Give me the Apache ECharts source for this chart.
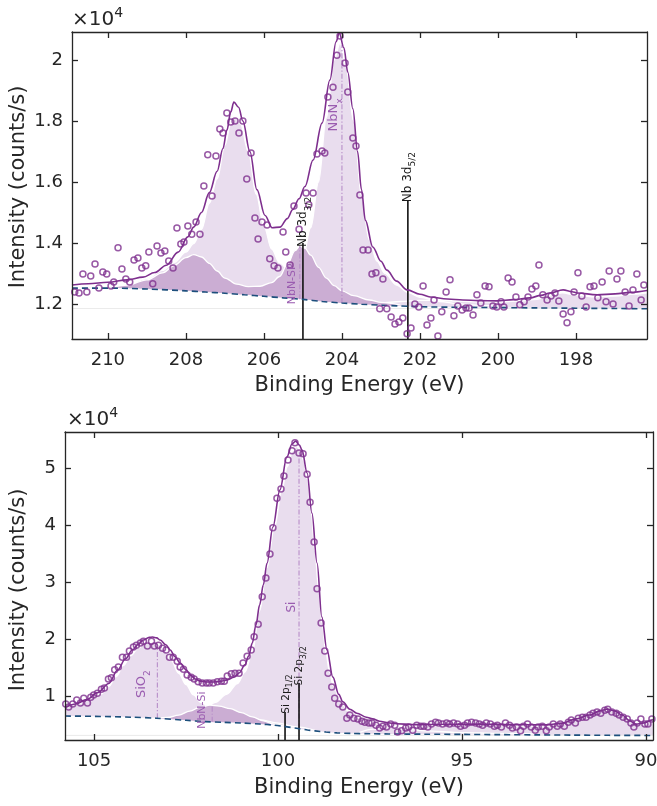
<!DOCTYPE html>
<html><head><meta charset="utf-8">
<script src="https://cdn.jsdelivr.net/npm/echarts@6/dist/echarts.min.js"></script>
<style>html,body{margin:0;padding:0;background:#fff}#c{width:657px;height:806px}</style>
</head><body><div id="c"></div>
<script>
// ---------------- DATA (intensity in units of 1e4 counts/s, energy in eV) ----------------
const topXTicks = [198, 200, 202, 204, 206, 208, 210];
const topYTicks = [1.2, 1.4, 1.6, 1.8, 2];
const botXTicks = [90, 95, 100, 105];
const botYTicks = [1, 2, 3, 4, 5];

// Nb 3d panel
const topScatter = [[210.85,1.239],[210.74,1.236],[210.64,1.298],[210.54,1.239],[210.44,1.292],[210.33,1.331],[210.23,1.252],[210.13,1.305],[210.03,1.298],[209.92,1.259],[209.85,1.272],[209.74,1.384],[209.64,1.315],[209.54,1.282],[209.44,1.272],[209.33,1.344],[209.23,1.351],[209.13,1.318],[209.03,1.325],[208.95,1.370],[208.85,1.266],[208.74,1.390],[208.64,1.367],[208.54,1.374],[208.44,1.341],[208.33,1.318],[208.23,1.449],[208.13,1.397],[208.05,1.403],[207.95,1.456],[207.85,1.429],[207.74,1.469],[207.64,1.429],[207.54,1.587],[207.44,1.689],[207.33,1.554],[207.23,1.685],[207.13,1.774],[207.05,1.761],[206.95,1.826],[206.85,1.797],[206.74,1.800],[206.64,1.761],[206.54,1.800],[206.44,1.610],[206.33,1.695],[206.23,1.482],[206.15,1.413],[206.05,1.469],[205.92,1.459],[205.85,1.348],[205.74,1.325],[205.64,1.318],[205.51,1.436],[205.44,1.370],[205.33,1.328],[205.23,1.521],[205.1,1.445],[204.92,1.564],[204.85,1.525],[204.74,1.564],[204.64,1.692],[204.51,1.702],[204.44,1.695],[204.36,1.879],[204.23,1.911],[204.13,2.016],[204.05,2.079],[203.92,1.990],[203.85,1.895],[203.72,1.744],[203.64,1.718],[203.54,1.557],[203.46,1.377],[203.33,1.377],[203.23,1.298],[203.13,1.302],[203.03,1.184],[202.95,1.282],[202.85,1.184],[202.74,1.157],[202.64,1.134],[202.54,1.141],[202.44,1.154],[202.33,1.102],[202.23,1.121],[202.13,1.200],[202.03,1.190],[201.92,1.259],[201.82,1.131],[201.72,1.154],[201.64,1.213],[201.54,1.095],[201.44,1.174],[201.33,1.239],[201.23,1.279],[201.13,1.161],[201.03,1.193],[200.92,1.180],[200.82,1.187],[200.74,1.187],[200.64,1.164],[200.54,1.230],[200.44,1.203],[200.33,1.259],[200.23,1.256],[200.13,1.193],[200.03,1.190],[199.92,1.207],[199.85,1.190],[199.74,1.285],[199.64,1.272],[199.54,1.223],[199.44,1.197],[199.33,1.207],[199.23,1.223],[199.13,1.249],[199.03,1.259],[198.95,1.328],[198.85,1.230],[198.74,1.213],[198.64,1.226],[198.54,1.236],[198.44,1.210],[198.33,1.167],[198.23,1.138],[198.13,1.174],[198.05,1.239],[197.95,1.302],[197.85,1.226],[197.74,1.190],[197.64,1.256],[197.54,1.259],[197.44,1.220],[197.33,1.272],[197.23,1.207],[197.15,1.308],[197.05,1.200],[196.95,1.282],[196.85,1.308],[196.74,1.239],[196.64,1.193],[196.54,1.246],[196.44,1.298],[196.33,1.213],[196.26,1.262]];
const topEnvelope = [[210.92,1.262],[210.5,1.266],[210.0,1.271],[209.5,1.279],[209.1,1.288],[208.8,1.303],[208.5,1.327],[208.2,1.370],[207.95,1.42],[207.8,1.452],[207.6,1.50],[207.4,1.565],[207.2,1.635],[207.05,1.71],[206.95,1.77],[206.85,1.83],[206.77,1.862],[206.65,1.845],[206.54,1.80],[206.36,1.70],[206.18,1.575],[205.97,1.49],[205.79,1.45],[205.59,1.452],[205.4,1.48],[205.26,1.51],[205.1,1.545],[204.95,1.585],[204.74,1.672],[204.51,1.793],[204.31,1.934],[204.15,2.06],[204.07,2.089],[203.95,2.04],[203.85,1.96],[203.72,1.84],[203.6,1.70],[203.5,1.575],[203.4,1.475],[203.21,1.387],[203.0,1.34],[202.85,1.311],[202.6,1.275],[202.33,1.246],[202.0,1.232],[201.74,1.223],[201.3,1.216],[200.9,1.213],[200.5,1.211],[200.03,1.210],[199.6,1.214],[199.18,1.220],[198.9,1.228],[198.67,1.236],[198.33,1.246],[198.1,1.240],[197.97,1.236],[197.46,1.230],[197.0,1.233],[196.6,1.238],[196.18,1.244]];
const topBackground = [[210.92,1.252],[210,1.252],[209,1.249],[208,1.243],[207.5,1.239],[207,1.235],[206.5,1.230],[206,1.225],[205.5,1.220],[205,1.215],[204.5,1.208],[204,1.203],[203.5,1.199],[203,1.196],[202,1.191],[201,1.189],[200,1.188],[199,1.187],[198,1.186],[197,1.185],[196.18,1.184]];
const topNbNx52 = [[206.4,1.232],[206.0,1.250],[205.6,1.262],[205.3,1.287],[205.0,1.352],[204.8,1.45],[204.6,1.60],[204.4,1.81],[204.2,2.0],[204.05,2.055],[203.9,1.98],[203.7,1.80],[203.5,1.555],[203.3,1.41],[203.1,1.34],[202.9,1.30],[202.6,1.262],[202.3,1.237],[202.0,1.222],[201.5,1.208],[201.0,1.200],[200.5,1.195],[200.0,1.192]];
const topNbNx32 = [[210.92,1.253],[210.0,1.256],[209.5,1.262],[209.0,1.283],[208.6,1.31],[208.3,1.336],[208.0,1.37],[207.8,1.398],[207.6,1.445],[207.4,1.53],[207.2,1.61],[207.0,1.72],[206.85,1.79],[206.75,1.812],[206.6,1.79],[206.4,1.70],[206.2,1.56],[206.0,1.455],[205.8,1.38],[205.6,1.335],[205.3,1.30],[205.0,1.275],[204.6,1.25],[204.0,1.225],[203.5,1.212],[203.0,1.203]];
const topNbNSP = [[210.92,1.252],[210.4,1.253],[209.9,1.256],[209.5,1.262],[209.0,1.279],[208.6,1.302],[208.3,1.326],[208.0,1.352],[207.8,1.362],[207.6,1.354],[207.4,1.333],[207.2,1.308],[207.0,1.285],[206.7,1.265],[206.4,1.257],[206.1,1.258],[205.8,1.27],[205.6,1.29],[205.4,1.33],[205.2,1.375],[205.08,1.39],[204.95,1.383],[204.8,1.36],[204.6,1.32],[204.4,1.285],[204.2,1.26],[204.0,1.243],[203.7,1.227],[203.3,1.213],[203.0,1.205],[202.5,1.196]];
const topTail = [[203.3,1.199],[203.0,1.203],[202.5,1.208],[202.0,1.212],[201.5,1.212],[201.0,1.209],[200.5,1.207],[200.0,1.206],[199.5,1.209],[199.0,1.215],[198.7,1.226],[198.35,1.236],[198.0,1.229],[197.5,1.223],[197.0,1.226],[196.5,1.232],[196.18,1.236]];
const topBaseline = [[210.92,1.185],[196.18,1.185]];
const topPeakCentres = [[204.0,1.203,2.05],[205.08,1.215,1.39]];      // [energy, from, to]
const topRefLines = [[205.0,1.085,1.40],[202.31,1.085,1.538]];         // [energy, from, to]

// Si 2p panel
const botScatter = [[105.77,0.86],[105.69,0.81],[105.58,0.86],[105.47,0.93],[105.37,0.88],[105.28,0.96],[105.18,0.88],[105.09,0.98],[105.01,1.02],[104.91,1.05],[104.80,1.12],[104.72,1.14],[104.61,1.30],[104.53,1.32],[104.44,1.46],[104.34,1.51],[104.23,1.68],[104.12,1.68],[104.04,1.79],[103.93,1.86],[103.85,1.89],[103.74,1.93],[103.66,1.96],[103.55,1.88],[103.44,1.96],[103.36,1.88],[103.25,1.89],[103.14,1.84],[103.04,1.81],[102.95,1.68],[102.85,1.68],[102.74,1.61],[102.66,1.51],[102.57,1.47],[102.47,1.37],[102.36,1.33],[102.28,1.30],[102.17,1.25],[102.06,1.23],[101.95,1.23],[101.87,1.23],[101.76,1.23],[101.65,1.25],[101.54,1.26],[101.46,1.26],[101.38,1.35],[101.27,1.39],[101.17,1.40],[101.06,1.40],[100.95,1.58],[100.84,1.70],[100.73,1.81],[100.65,2.04],[100.54,2.26],[100.43,2.74],[100.33,3.07],[100.22,3.49],[100.14,3.95],[100.03,4.47],[99.92,4.63],[99.84,4.86],[99.73,5.14],[99.62,5.30],[99.54,5.44],[99.43,5.26],[99.32,5.25],[99.21,4.89],[99.13,4.40],[99.02,3.70],[98.94,2.88],[98.83,2.28],[98.73,1.79],[98.64,1.40],[98.54,1.16],[98.46,0.96],[98.35,0.86],[98.24,0.81],[98.13,0.61],[98.05,0.67],[97.94,0.61],[97.83,0.60],[97.72,0.56],[97.64,0.54],[97.53,0.53],[97.45,0.53],[97.34,0.49],[97.24,0.44],[97.15,0.47],[97.05,0.46],[96.94,0.51],[96.83,0.49],[96.75,0.37],[96.64,0.39],[96.53,0.44],[96.45,0.46],[96.34,0.40],[96.23,0.49],[96.12,0.47],[96.04,0.47],[95.93,0.46],[95.83,0.51],[95.72,0.54],[95.64,0.53],[95.53,0.51],[95.42,0.53],[95.34,0.51],[95.23,0.53],[95.12,0.51],[95.04,0.47],[94.93,0.49],[94.85,0.53],[94.74,0.54],[94.63,0.53],[94.53,0.51],[94.44,0.49],[94.34,0.53],[94.23,0.51],[94.12,0.47],[94.04,0.49],[93.93,0.46],[93.82,0.53],[93.71,0.49],[93.63,0.44],[93.52,0.46],[93.41,0.39],[93.33,0.47],[93.22,0.51],[93.12,0.46],[93.01,0.40],[92.93,0.46],[92.82,0.47],[92.71,0.39],[92.63,0.46],[92.52,0.51],[92.41,0.47],[92.33,0.51],[92.22,0.47],[92.11,0.54],[92.03,0.58],[91.92,0.53],[91.84,0.61],[91.73,0.63],[91.63,0.63],[91.52,0.67],[91.44,0.70],[91.33,0.72],[91.23,0.70],[91.12,0.75],[91.04,0.77],[90.93,0.72],[90.81,0.70],[90.73,0.67],[90.62,0.63],[90.51,0.60],[90.41,0.53],[90.33,0.46],[90.24,0.53],[90.14,0.60],[90.03,0.51],[89.95,0.51],[89.84,0.60]];
const botEnvelope = [[105.79,0.80],[105.5,0.86],[105.2,0.94],[104.9,1.06],[104.6,1.22],[104.36,1.456],[104.15,1.65],[103.96,1.807],[103.8,1.91],[103.66,1.982],[103.5,2.03],[103.41,2.035],[103.3,2.02],[103.2,1.982],[103.05,1.90],[102.93,1.807],[102.8,1.69],[102.66,1.579],[102.5,1.46],[102.38,1.368],[102.25,1.30],[102.11,1.263],[101.95,1.248],[101.76,1.246],[101.55,1.26],[101.38,1.285],[101.2,1.33],[101.05,1.41],[100.9,1.55],[100.8,1.70],[100.7,1.93],[100.6,2.25],[100.5,2.60],[100.4,2.95],[100.3,3.33],[100.14,3.965],[99.95,4.614],[99.76,5.193],[99.62,5.42],[99.52,5.47],[99.42,5.40],[99.35,5.316],[99.21,4.912],[99.08,4.21],[98.94,3.333],[98.81,2.386],[98.67,1.807],[98.51,1.333],[98.35,1.03],[98.24,0.90],[98.05,0.77],[97.86,0.70],[97.6,0.63],[97.43,0.60],[97.24,0.56],[97.0,0.53],[96.78,0.515],[96.34,0.50],[95.5,0.505],[94.53,0.509],[93.6,0.50],[92.71,0.495],[92.28,0.526],[91.9,0.60],[91.54,0.667],[91.25,0.74],[91.06,0.772],[90.85,0.74],[90.65,0.667],[90.45,0.57],[90.27,0.509],[90.05,0.53],[89.86,0.579],[89.81,0.585]];
const botBackground = [[105.79,0.650],[105,0.645],[104,0.630],[103.3,0.612],[102.5,0.575],[102,0.552],[101.5,0.540],[101,0.528],[100.5,0.510],[100.1,0.490],[99.8,0.465],[99.5,0.435],[99.2,0.405],[99.0,0.390],[98.7,0.370],[98.4,0.355],[98,0.345],[97.5,0.340],[97,0.336],[96,0.332],[95,0.328],[94,0.324],[93,0.320],[92,0.316],[91,0.312],[90,0.310],[89.81,0.308]];
const botSiO2 = [[105.79,0.79],[105.4,0.87],[105.0,0.96],[104.8,1.04],[104.6,1.17],[104.4,1.34],[104.2,1.54],[104.0,1.71],[103.8,1.84],[103.6,1.92],[103.45,1.945],[103.3,1.93],[103.1,1.82],[102.9,1.62],[102.7,1.40],[102.5,1.20],[102.3,1.02],[102.1,0.89],[101.8,0.77],[101.5,0.695],[101.0,0.635],[100.5,0.585],[100.0,0.525],[99.5,0.46],[99.0,0.40]];
const botSi = [[103.5,0.615],[103.0,0.605],[102.6,0.615],[102.3,0.67],[102.0,0.77],[101.7,0.89],[101.4,1.03],[101.1,1.22],[100.9,1.42],[100.7,1.76],[100.5,2.50],[100.3,3.25],[100.1,3.95],[99.9,4.60],[99.75,5.02],[99.6,5.30],[99.5,5.38],[99.4,5.31],[99.3,5.12],[99.2,4.80],[99.1,4.22],[99.0,3.55],[98.9,2.90],[98.8,2.28],[98.7,1.76],[98.6,1.42],[98.5,1.18],[98.3,0.90],[98.1,0.74],[97.8,0.62],[97.5,0.54],[97.0,0.46],[96.5,0.415],[96.0,0.39],[95.0,0.36],[94.0,0.345],[93.0,0.335]];
const botNbNSi = [[103.3,0.612],[103.0,0.625],[102.7,0.665],[102.4,0.735],[102.1,0.81],[101.85,0.84],[101.6,0.825],[101.3,0.78],[101.0,0.71],[100.7,0.635],[100.4,0.565],[100.1,0.505],[99.8,0.468]];
const botTail = [[97.8,0.36],[97.4,0.42],[97.0,0.46],[96.5,0.475],[96.0,0.48],[95.0,0.485],[94.0,0.485],[93.0,0.475],[92.6,0.48],[92.3,0.505],[92.0,0.56],[91.7,0.63],[91.4,0.70],[91.15,0.745],[91.0,0.75],[90.8,0.72],[90.6,0.64],[90.4,0.55],[90.2,0.50],[90.0,0.52],[89.81,0.56]];
const botBaseline = [[105.79,0.31],[89.81,0.31]];
const botPeakCentres = [[103.28,0.612,1.85],[101.79,0.548,0.84],[99.43,0.43,5.2]];
const botRefLines = [[99.81,0.23,0.72],[99.43,0.23,1.23]];

// annotation texts, anchored in data coordinates
const topLabels = [
  {text:'NbN-SP', e:205.28, v:1.266, kind:'comp', size:11},
  {text:'Nb 3d{s|3/2}', e:204.99, v:1.469, kind:'ref', size:12},
  {text:'NbN{s|x}', e:204.22, v:1.82, kind:'comp', size:13},
  {text:'Nb 3d{s|5/2}', e:202.31, v:1.616, kind:'ref', size:12}
];
const botLabels = [
  {text:'SiO{s|2}', e:103.71, v:1.21, kind:'comp', size:13},
  {text:'NbN-Si', e:102.06, v:0.754, kind:'comp', size:11},
  {text:'Si', e:99.62, v:2.56, kind:'comp', size:12},
  {text:'Si 2p{s|1/2}', e:99.79, v:1.035, kind:'ref', size:10.5},
  {text:'Si 2p{s|3/2}', e:99.41, v:1.53, kind:'ref', size:10.5}
];

// ---------------- STYLE ----------------
const FONT = 'DejaVu Sans';
const AX = '#262626';
const PURPLE = '#7E2F8E';
const LIGHT = '#e9ddee';
const DARK = '#cbadd3';
const LABEL_PURPLE = '#9a5cb0';
const DASHDOT = '#b78dc8';
const BGLINE = '#1c4f7c';

function xAx(grid, min, max, ticks, pos, labels){
  return {gridIndex:grid, type:'value', min, max, inverse:true, position:pos, z:20,
    axisLine:{show:true, onZero:false, lineStyle:{color:AX, width:1.3}},
    axisTick:{show:true, inside:true, length:6, customValues:ticks, lineStyle:{color:AX, width:1.3}},
    axisLabel:{show:labels, customValues:ticks, margin:12, fontSize:18, fontFamily:FONT, color:AX},
    splitLine:{show:false}};
}
function yAx(grid, min, max, ticks, pos, labels){
  return {gridIndex:grid, type:'value', min, max, position:pos, z:20,
    axisLine:{show:true, onZero:false, lineStyle:{color:AX, width:1.3}},
    axisTick:{show:true, inside:true, length:6, customValues:ticks, lineStyle:{color:AX, width:1.3}},
    axisLabel:{show:labels, customValues:ticks, margin:9, fontSize:18, fontFamily:FONT, color:AX},
    splitLine:{show:false}};
}
function base(ai, data, z){
  return {type:'line', xAxisIndex:ai, yAxisIndex:ai, data, showSymbol:false, symbol:'none',
    silent:true, animation:false, z};
}
function fill(ai, data, color, z){
  return Object.assign(base(ai, data, z), {smooth:0.35, smoothMonotone:'x',
    lineStyle:{color:'#ffffff', width:1.3}, areaStyle:{color, opacity:1, origin:'start'}});
}
function cover(ai, data){
  return Object.assign(base(ai, data, 3), {smooth:0.3, lineStyle:{width:0, opacity:0},
    areaStyle:{color:'#ffffff', opacity:1, origin:'start'}});
}
function vlines(ai, rows, style, z){
  return rows.map(r => Object.assign(base(ai, [[r[0], r[1]], [r[0], r[2]]], z), {lineStyle:style}));
}
function panelSeries(ai, d){
  const s = [];
  d.light.forEach(c => s.push(fill(ai, c, LIGHT, 1)));
  d.dark.forEach(c => s.push(fill(ai, c, DARK, 2)));
  s.push(cover(ai, d.bg));
  s.push(Object.assign(base(ai, d.baseline, 3.5), {lineStyle:{color:'#ebebeb', width:1}}));
  vlines(ai, d.centres, {color:DASHDOT, width:1.1, type:[5,2,1.2,2]}, 4).forEach(x => s.push(x));
  vlines(ai, d.refs, {color:'#111111', width:1.6}, 5).forEach(x => s.push(x));
  s.push(Object.assign(base(ai, d.bg, 6), {smooth:0.3, lineStyle:{color:BGLINE, width:1.6, type:[6,4]}}));
  s.push(Object.assign(base(ai, d.env, 7), {smooth:0.35, smoothMonotone:'x', lineStyle:{color:PURPLE, width:1.6}}));
  s.push({type:'scatter', xAxisIndex:ai, yAxisIndex:ai, data:d.pts, symbol:'circle', symbolSize:6,
    silent:true, animation:false, z:8,
    itemStyle:{color:'rgba(255,255,255,0)', borderColor:PURPLE, borderWidth:1.5}});
  return s;
}

const series = [].concat(
  panelSeries(0, {light:[topNbNx32, topNbNx52, topTail], dark:[topNbNSP], bg:topBackground,
    baseline:topBaseline, centres:topPeakCentres, refs:topRefLines, env:topEnvelope, pts:topScatter}),
  panelSeries(2, {light:[botSiO2, botSi, botTail], dark:[botNbNSi], bg:botBackground,
    baseline:botBaseline, centres:botPeakCentres, refs:botRefLines, env:botEnvelope, pts:botScatter})
);

const chart = echarts.init(document.getElementById('c'), null, {renderer:'canvas'});
chart.setOption({
  animation:false,
  backgroundColor:'#ffffff',
  grid:[
    {left:72, top:32, width:575, height:307, outerBoundsMode:'none', containLabel:false},
    {left:65, top:432, width:588, height:308, outerBoundsMode:'none', containLabel:false}
  ],
  xAxis:[
    xAx(0, 196.18, 210.92, topXTicks, 'bottom', true),
    xAx(0, 196.18, 210.92, topXTicks, 'top', false),
    xAx(1, 89.81, 105.79, botXTicks, 'bottom', true),
    xAx(1, 89.81, 105.79, botXTicks, 'top', false)
  ],
  yAxis:[
    yAx(0, 1.085, 2.092, topYTicks, 'left', true),
    yAx(0, 1.085, 2.092, topYTicks, 'right', false),
    yAx(1, 0.23, 5.63, botYTicks, 'left', true),
    yAx(1, 0.23, 5.63, botYTicks, 'right', false)
  ],
  series
});

function labelEl(l, ai){
  const p = chart.convertToPixel({xAxisIndex:ai, yAxisIndex:ai}, [l.e, l.v]);
  const col = l.kind === 'ref' ? '#1a1a1a' : LABEL_PURPLE;
  const sub = Math.round(l.size * 0.72);
  return {type:'text', x:p[0], y:p[1], rotation:Math.PI/2, z:100, silent:true,
    style:{text:l.text, fill:col, fontSize:l.size, fontFamily:FONT, lineHeight:Math.round(l.size*1.6),
      align:'center', verticalAlign:'middle',
      rich:{s:{fontSize:sub, fill:col, fontFamily:FONT, lineHeight:sub, verticalAlign:'bottom'}}}};
}
function titleEl(text, x, y, rot){
  return {type:'text', x, y, rotation:rot, z:100, silent:true,
    style:{text, fill:AX, fontSize:21, fontFamily:FONT, align:'center', verticalAlign:'middle'}};
}
function expEl(x, y){
  return {type:'text', x, y, z:100, silent:true,
    style:{text:'×10{b|4}', fill:AX, fontSize:20, fontFamily:FONT, lineHeight:28, align:'left', verticalAlign:'middle',
      rich:{b:{fontSize:14, fill:AX, fontFamily:FONT, lineHeight:14, verticalAlign:'top'}}}};
}
const graphic = [].concat(
  topLabels.map(l => labelEl(l, 0)),
  botLabels.map(l => labelEl(l, 2)),
  [titleEl('Binding Energy (eV)', 359.5, 386, 0), titleEl('Binding Energy (eV)', 359, 788, 0),
   titleEl('Intensity (counts/s)', 19, 187, Math.PI/2), titleEl('Intensity (counts/s)', 19, 590, Math.PI/2),
   expEl(72, 20), expEl(67, 420)]
);
chart.setOption({graphic});
</script>
</body></html>
